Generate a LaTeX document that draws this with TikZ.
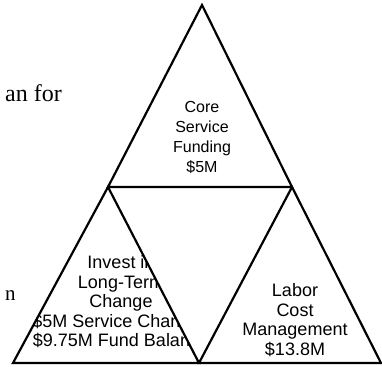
\documentclass[tikz,border=0pt]{standalone}
\usepackage{fontspec}
\setmainfont{Liberation Serif}
\newfontfamily\arialfont{Liberation Sans}
\begin{document}
\begin{tikzpicture}[x=1pt,y=-1pt,
  edge/.style={line width=2.2pt, line join=miter},
  tlabel/.style={font=\arialfont\fontsize{16}{20}\selectfont, align=center, inner sep=0pt},
  blabel/.style={font=\arialfont\fontsize{18}{19.5}\selectfont, align=center, inner sep=0pt},
  pagetext/.style={anchor=base west, inner sep=0pt}]
\useasboundingbox (0,0) rectangle (382,366);
\coordinate (A) at (202,5);
\coordinate (B) at (108,187);
\coordinate (C) at (292,187);
\coordinate (D) at (13,363);
\coordinate (E) at (199,363);
\coordinate (F) at (381,363);
\draw[edge] (A) -- (B) -- (C) -- cycle;
\draw[edge] (B) -- (D) -- (E) -- cycle;
\draw[edge] (C) -- (E) -- (F) -- cycle;
\node[tlabel] (core) at (202,137) {Core\\Service\\Funding\\\$5M};
\begin{scope}
  \clip (B) -- (D) -- (E) -- cycle;
  \node[blabel] (invest) at (121,302) {Invest in\\Long-Term\\Change\\\$5M Service Changes\\\$9.75M Fund Balance};
\end{scope}
\node[blabel] (labor) at (295,320) {Labor\\Cost\\Management\\\$13.8M};
\node[pagetext, font=\fontsize{24}{28}\selectfont] (anfor) at (5,102) {an for};
\node[pagetext, font=\fontsize{21}{24}\selectfont] (n) at (5,300) {n};
\end{tikzpicture}
\end{document}
